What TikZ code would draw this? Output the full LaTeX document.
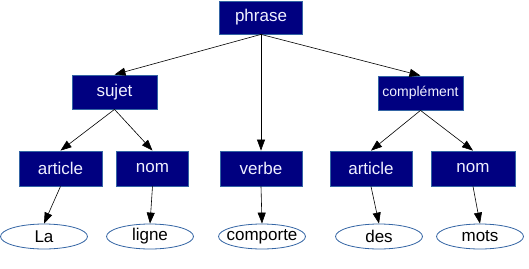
\documentclass[tikz,border=0pt]{standalone}
\usepackage{fontspec}
\setmainfont{Liberation Sans}
\usetikzlibrary{arrows.meta,shapes.geometric}
\definecolor{boxfill}{HTML}{000080}
\definecolor{boxline}{HTML}{3465A4}
\definecolor{boxtext}{HTML}{F0F0FF}
\begin{document}
\begin{tikzpicture}[x=1pt,y=-1pt,
  cat/.style={draw=boxline,line width=0.8pt,fill=boxfill,text=boxtext,
    minimum width=83pt,minimum height=34pt,inner sep=1pt,
    font=\fontsize{17}{19}\selectfont},
  word/.style={ellipse,draw=boxline,line width=0.8pt,fill=white,text=black,
    minimum width=87pt,minimum height=25pt,inner sep=0pt,
    font=\fontsize{17}{19}\selectfont},
  edge/.style={line width=0.6pt,-{Triangle[length=11pt,width=8pt]}}]
\useasboundingbox (0,0) rectangle (529,268);
% category boxes
\node[cat,minimum height=33pt] (phrase) at (261,17.5) {phrase};
\node[cat,minimum width=85pt] (sujet) at (114.5,92) {sujet};
\node[cat,minimum width=85pt,font=\fontsize{14}{16}\selectfont] (compl) at (420.5,93) {complément};
\node[cat,minimum height=35pt] (art1) at (60.5,168.5) {article};
\node[cat,minimum width=72pt,minimum height=35pt] (nom1) at (152.5,168.5) {nom};
\node[cat,minimum width=82pt,minimum height=35pt] (verbe) at (261,168.5) {verbe};
\node[cat,minimum width=82pt,minimum height=35pt] (art2) at (371,168.5) {article};
\node[cat,minimum width=84pt,minimum height=35pt] (nom2) at (473,168.5) {nom};
% words
\node[word] (la) at (44,236.5) {La};
\node[word] (ligne) at (150,236.5) {ligne};
\node[word,inner xsep=-5.5pt] (comporte) at (262,236.5) {comporte};
\node[word] (des) at (379,236.5) {des};
\node[word] (mots) at (480,236.5) {mots};
% connectors
\draw[edge] (phrase.south) -- (sujet.north);
\draw[edge] (phrase.south) -- (verbe.north);
\draw[edge] (phrase.south) -- (compl.north);
\draw[edge] (sujet.south) -- (art1.north);
\draw[edge] (sujet.south) -- (nom1.north);
\draw[edge] (compl.south) -- (art2.north);
\draw[edge] (compl.south) -- (nom2.north);
\draw[edge] (art1.south) -- (la.north);
\draw[edge] (nom1.south) -- (ligne.north);
\draw[edge] (verbe.south) -- (comporte.north);
\draw[edge] (art2.south) -- (des.north);
\draw[edge] (nom2.south) -- (mots.north);
\end{tikzpicture}
\end{document}
